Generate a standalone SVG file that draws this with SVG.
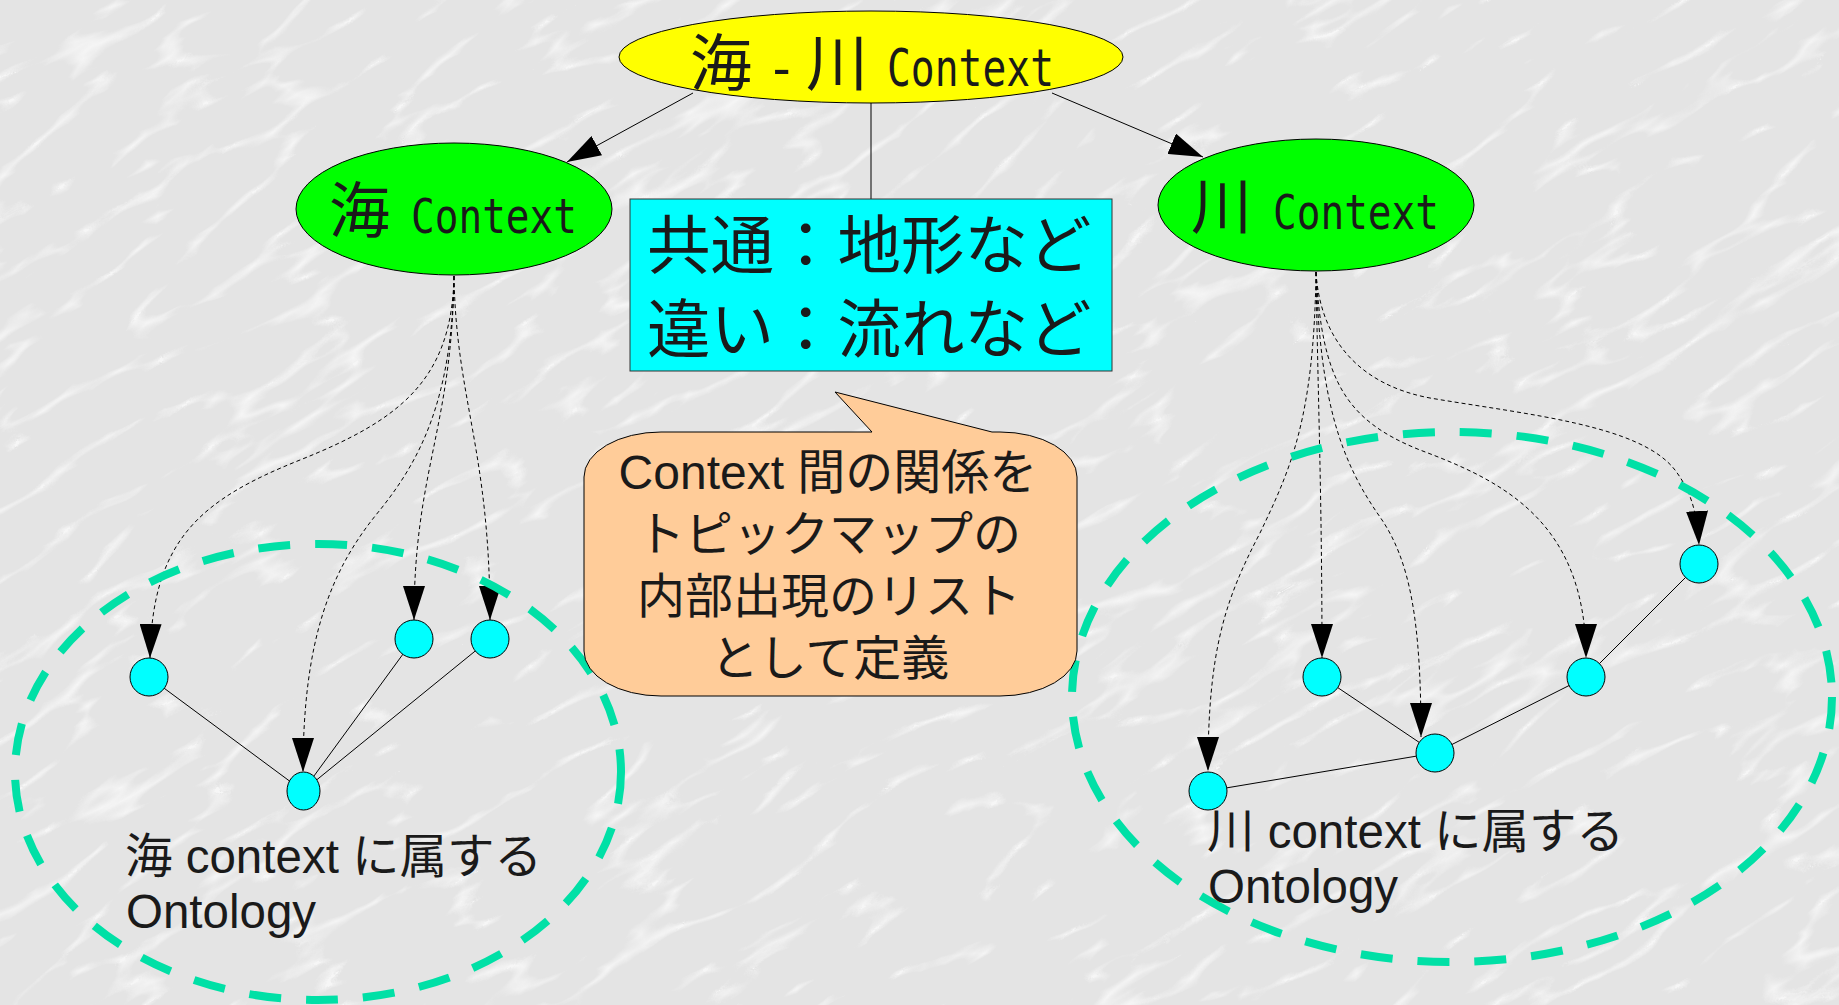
<svg xmlns="http://www.w3.org/2000/svg" width="1839" height="1005" viewBox="0 0 1839 1005">
  <style>
    .cjk { font-family: "Noto Sans CJK JP", "Noto Sans", sans-serif; fill: #1a1a1a; }
    .mono { font-family: "DejaVu Sans Mono", "Liberation Mono", monospace; }
    .sans { font-family: "Liberation Sans", "Noto Sans CJK JP", sans-serif; fill: #1a1a1a; }
    .edge { fill: none; stroke: #000; stroke-width: 1; }
    .dash { fill: none; stroke: #000; stroke-width: 1; stroke-dasharray: 4 3; }
    .onto { fill: none; stroke: #00E0A6; stroke-width: 8; stroke-dasharray: 32 25; }
    .node { fill: #00FFFF; stroke: #000; stroke-width: 1; }
    .ctx { fill: #00FF00; stroke: #000; stroke-width: 1; }
  </style>
  <defs>
    <marker id="ah" markerWidth="34" markerHeight="22" refX="34" refY="11" orient="auto" markerUnits="userSpaceOnUse">
      <path d="M0,0 L34,11 L0,22 Z" fill="#000"/>
    </marker>
    <filter id="marble" filterUnits="userSpaceOnUse" x="-700" y="-700" width="3300" height="2400">
      <feTurbulence type="turbulence" baseFrequency="0.006 0.02" numOctaves="3" seed="11" result="n"/>
      <feColorMatrix in="n" type="matrix" values="0 0 0 0 1  0 0 0 0 1  0 0 0 0 1  -5 0 0 0 0.9"/>
    </filter>
  </defs>

  <!-- background -->
  <rect x="0" y="0" width="1839" height="1005" fill="#e4e4e4"/>
  <g transform="rotate(-30 920 500)" opacity="0.75">
    <rect x="-700" y="-700" width="3300" height="2400" fill="#fff" filter="url(#marble)"/>
  </g>

  <!-- connectors -->
  <g id="connectors">
    <line class="edge" x1="693" y1="93" x2="567" y2="162" marker-end="url(#ah)"/>
    <line class="edge" x1="1052" y1="93" x2="1203" y2="157" marker-end="url(#ah)"/>
    <line class="edge" x1="871" y1="102" x2="871" y2="199"/>

    <path class="dash" d="M454,276 C452,380 400,420 300,460 C200,500 152,540 150,658" marker-end="url(#ah)"/>
    <path class="dash" d="M454,276 C452,400 420,460 380,510 C330,570 303,640 303,772" marker-end="url(#ah)"/>
    <path class="dash" d="M454,276 C452,430 414,470 414,620" marker-end="url(#ah)"/>
    <path class="dash" d="M454,276 C456,400 490,450 490,620" marker-end="url(#ah)"/>

    <path class="dash" d="M1316,272 C1314,420 1290,470 1260,533 C1225,600 1208,650 1208,771" marker-end="url(#ah)"/>
    <path class="dash" d="M1316,272 C1318,400 1322,500 1322,658" marker-end="url(#ah)"/>
    <path class="dash" d="M1316,272 C1320,400 1340,460 1380,517 C1410,560 1421,620 1421,737" marker-end="url(#ah)"/>
    <path class="dash" d="M1316,272 C1322,380 1345,420 1420,450 C1500,480 1586,520 1586,658" marker-end="url(#ah)"/>
    <path class="dash" d="M1316,272 C1320,340 1360,385 1430,398 C1530,415 1640,425 1675,470 C1690,490 1697,510 1699,545" marker-end="url(#ah)"/>

    <line class="edge" x1="149" y1="677" x2="303" y2="791"/>
    <line class="edge" x1="414" y1="639" x2="303" y2="791"/>
    <line class="edge" x1="490" y1="639" x2="303" y2="791"/>

    <line class="edge" x1="1208" y1="791" x2="1435" y2="753"/>
    <line class="edge" x1="1322" y1="677" x2="1435" y2="753"/>
    <line class="edge" x1="1435" y1="753" x2="1586" y2="677"/>
    <line class="edge" x1="1586" y1="677" x2="1699" y2="564"/>
  </g>

  <!-- ontology regions -->
  <g id="sea-ontology">
    <ellipse class="onto" cx="318" cy="772" rx="303" ry="228"/>
    <text class="sans" font-size="47.5"><tspan x="125" y="873">海 context に属する</tspan><tspan x="126" y="928">Ontology</tspan></text>
  </g>
  <g id="river-ontology">
    <ellipse class="onto" cx="1452" cy="697" rx="380" ry="265"/>
    <text class="sans" font-size="47.5"><tspan x="1207" y="848">川 context に属する</tspan><tspan x="1208" y="903">Ontology</tspan></text>
  </g>

  <!-- context nodes -->
  <g id="sea-river-context">
    <ellipse cx="871" cy="57" rx="252" ry="46" fill="#FFFF00" stroke="#000" stroke-width="1"/>
    <text class="cjk" y="86"><tspan x="690" font-size="62">海</tspan><tspan class="mono" x="766" font-size="52">-</tspan><tspan x="806" font-size="62">川</tspan><tspan class="mono" x="887" font-size="52" textLength="167" lengthAdjust="spacingAndGlyphs">Context</tspan></text>
  </g>
  <g id="sea-context">
    <ellipse class="ctx" cx="454" cy="209" rx="158" ry="66"/>
    <text class="cjk" y="233"><tspan x="329" font-size="61">海</tspan><tspan class="mono" x="411" font-size="48" textLength="166" lengthAdjust="spacingAndGlyphs">Context</tspan></text>
  </g>
  <g id="river-context">
    <ellipse class="ctx" cx="1316" cy="205" rx="158" ry="66"/>
    <text class="cjk" y="229"><tspan x="1191" font-size="61">川</tspan><tspan class="mono" x="1273" font-size="48" textLength="166" lengthAdjust="spacingAndGlyphs">Context</tspan></text>
  </g>

  <!-- note box -->
  <g id="note-box">
    <rect x="630" y="199" width="482" height="172" fill="#00FFFF" stroke="#333" stroke-width="1"/>
    <text class="cjk" font-size="63.5"><tspan x="647" y="268">共通：地形など</tspan><tspan x="647" y="352">違い：流れなど</tspan></text>
  </g>

  <!-- callout -->
  <g id="callout">
    <path d="M661,432 L872,432 L835,392 L992,432 L1000,432 A77,45 0 0 1 1077,477 L1077,651 A77,45 0 0 1 1000,696 L661,696 A77,45 0 0 1 584,651 L584,477 A77,45 0 0 1 661,432 Z" fill="#FFCC99" stroke="#000" stroke-width="1"/>
    <text class="sans" font-size="48" text-anchor="middle"><tspan x="828" y="489">Context 間の関係を</tspan><tspan x="829" y="551">トピックマップの</tspan><tspan x="829" y="613">内部出現のリスト</tspan><tspan x="830" y="675">として定義</tspan></text>
  </g>

  <!-- ontology nodes -->
  <g id="s1"><circle class="node" cx="149" cy="677" r="19"/></g>
  <g id="s2"><circle class="node" cx="414" cy="639" r="19"/></g>
  <g id="s3"><circle class="node" cx="490" cy="639" r="19"/></g>
  <g id="s4"><ellipse class="node" cx="303.5" cy="791" rx="16.5" ry="19"/></g>

  <g id="r1"><circle class="node" cx="1208" cy="791" r="19"/></g>
  <g id="r2"><circle class="node" cx="1322" cy="677" r="19"/></g>
  <g id="r3"><circle class="node" cx="1435" cy="753" r="19"/></g>
  <g id="r4"><circle class="node" cx="1586" cy="677" r="19"/></g>
  <g id="r5"><circle class="node" cx="1699" cy="564" r="19"/></g>
</svg>
